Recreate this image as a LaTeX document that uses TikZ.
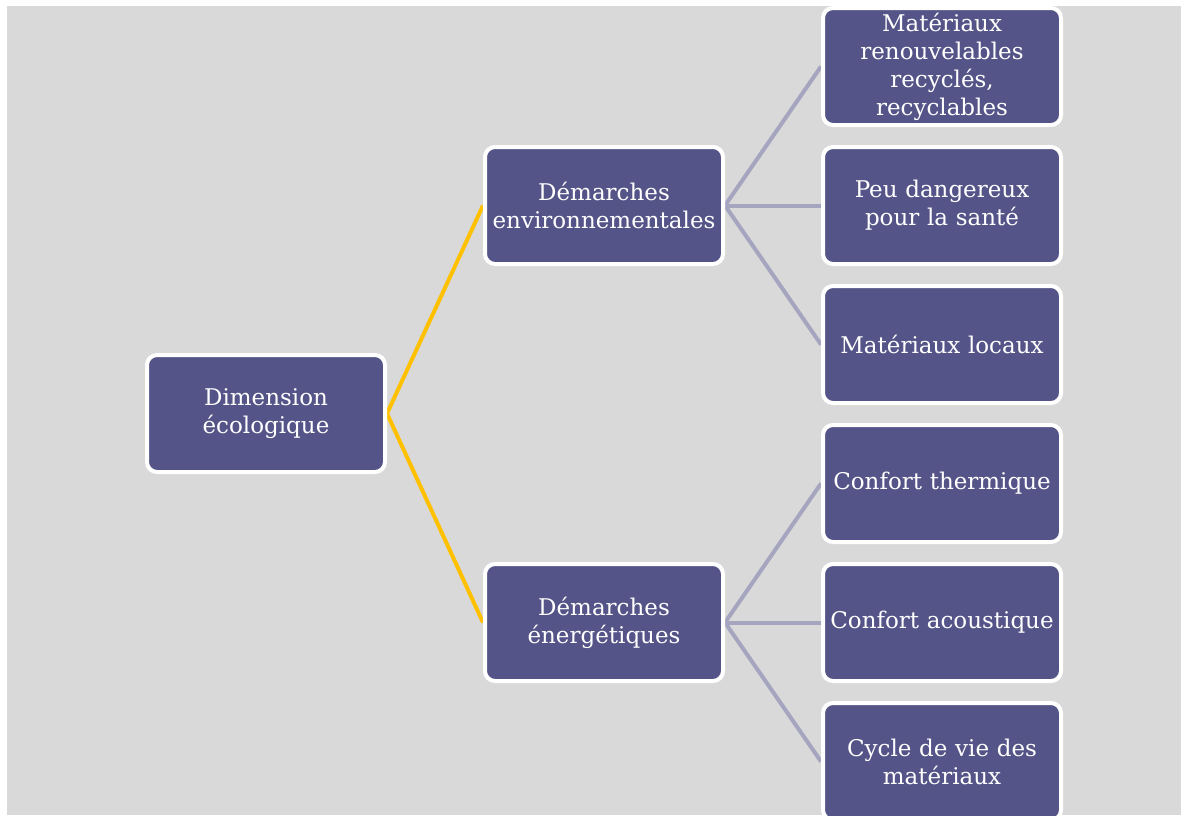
\documentclass[tikz,border=0pt]{standalone}
\usepackage{fontspec}
\setmainfont{DejaVu Serif}
\usetikzlibrary{positioning}
\definecolor{boxfill}{RGB}{84,84,136}
\definecolor{bggray}{RGB}{217,217,217}
\definecolor{linkgray}{RGB}{165,165,192}
\definecolor{linkyellow}{RGB}{255,192,0}
\pgfdeclarelayer{bg}
\pgfdeclarelayer{links}
\pgfsetlayers{bg,links,main}
\tikzset{
  box/.style={draw=white, line width=4pt, fill=boxfill, rounded corners=10pt,
    minimum width=238pt, minimum height=117pt, inner sep=2pt, text width=232pt,
    align=center, text=white, font=\fontsize{23pt}{28pt}\selectfont},
  ylink/.style={linkyellow, line width=4pt},
  glink/.style={linkgray, line width=4pt},
}
\begin{document}
\begin{tikzpicture}[x=1pt,y=-1pt]
\useasboundingbox (0,0) rectangle (1181,815);
\clip (0,0) rectangle (1181,815);
\begin{pgfonlayer}{bg}
\fill[white] (0,0) rectangle (1181,815);
\fill[bggray] (7,6) rectangle (1181,815);
\end{pgfonlayer}
\node[box] (root) at (266,413.5) {Dimension\\écologique};
\node[box] (env) at (604,205.5) {Démarches\\environnementales};
\node[box] (ener) at (604,622.5) {Démarches\\énergétiques};
\node[box] (m1) at (942,66.5) {Matériaux\\renouvelables\\recyclés,\\recyclables};
\node[box] (m2) at (942,205.5) {Peu dangereux\\pour la santé};
\node[box] (m3) at (942,344.5) {Matériaux locaux};
\node[box] (c1) at (942,483.5) {Confort thermique};
\node[box] (c2) at (942,622.5) {Confort acoustique};
\node[box] (c3) at (942,761.5) {Cycle de vie des\\matériaux};
\begin{pgfonlayer}{links}
\draw[ylink] (root.east) -- (env.west);
\draw[ylink] (root.east) -- (ener.west);
\draw[glink] (env.east) -- (m1.west);
\draw[glink] (env.east) -- (m2.west);
\draw[glink] (env.east) -- (m3.west);
\draw[glink] (ener.east) -- (c1.west);
\draw[glink] (ener.east) -- (c2.west);
\draw[glink] (ener.east) -- (c3.west);
\end{pgfonlayer}
\end{tikzpicture}
\end{document}
